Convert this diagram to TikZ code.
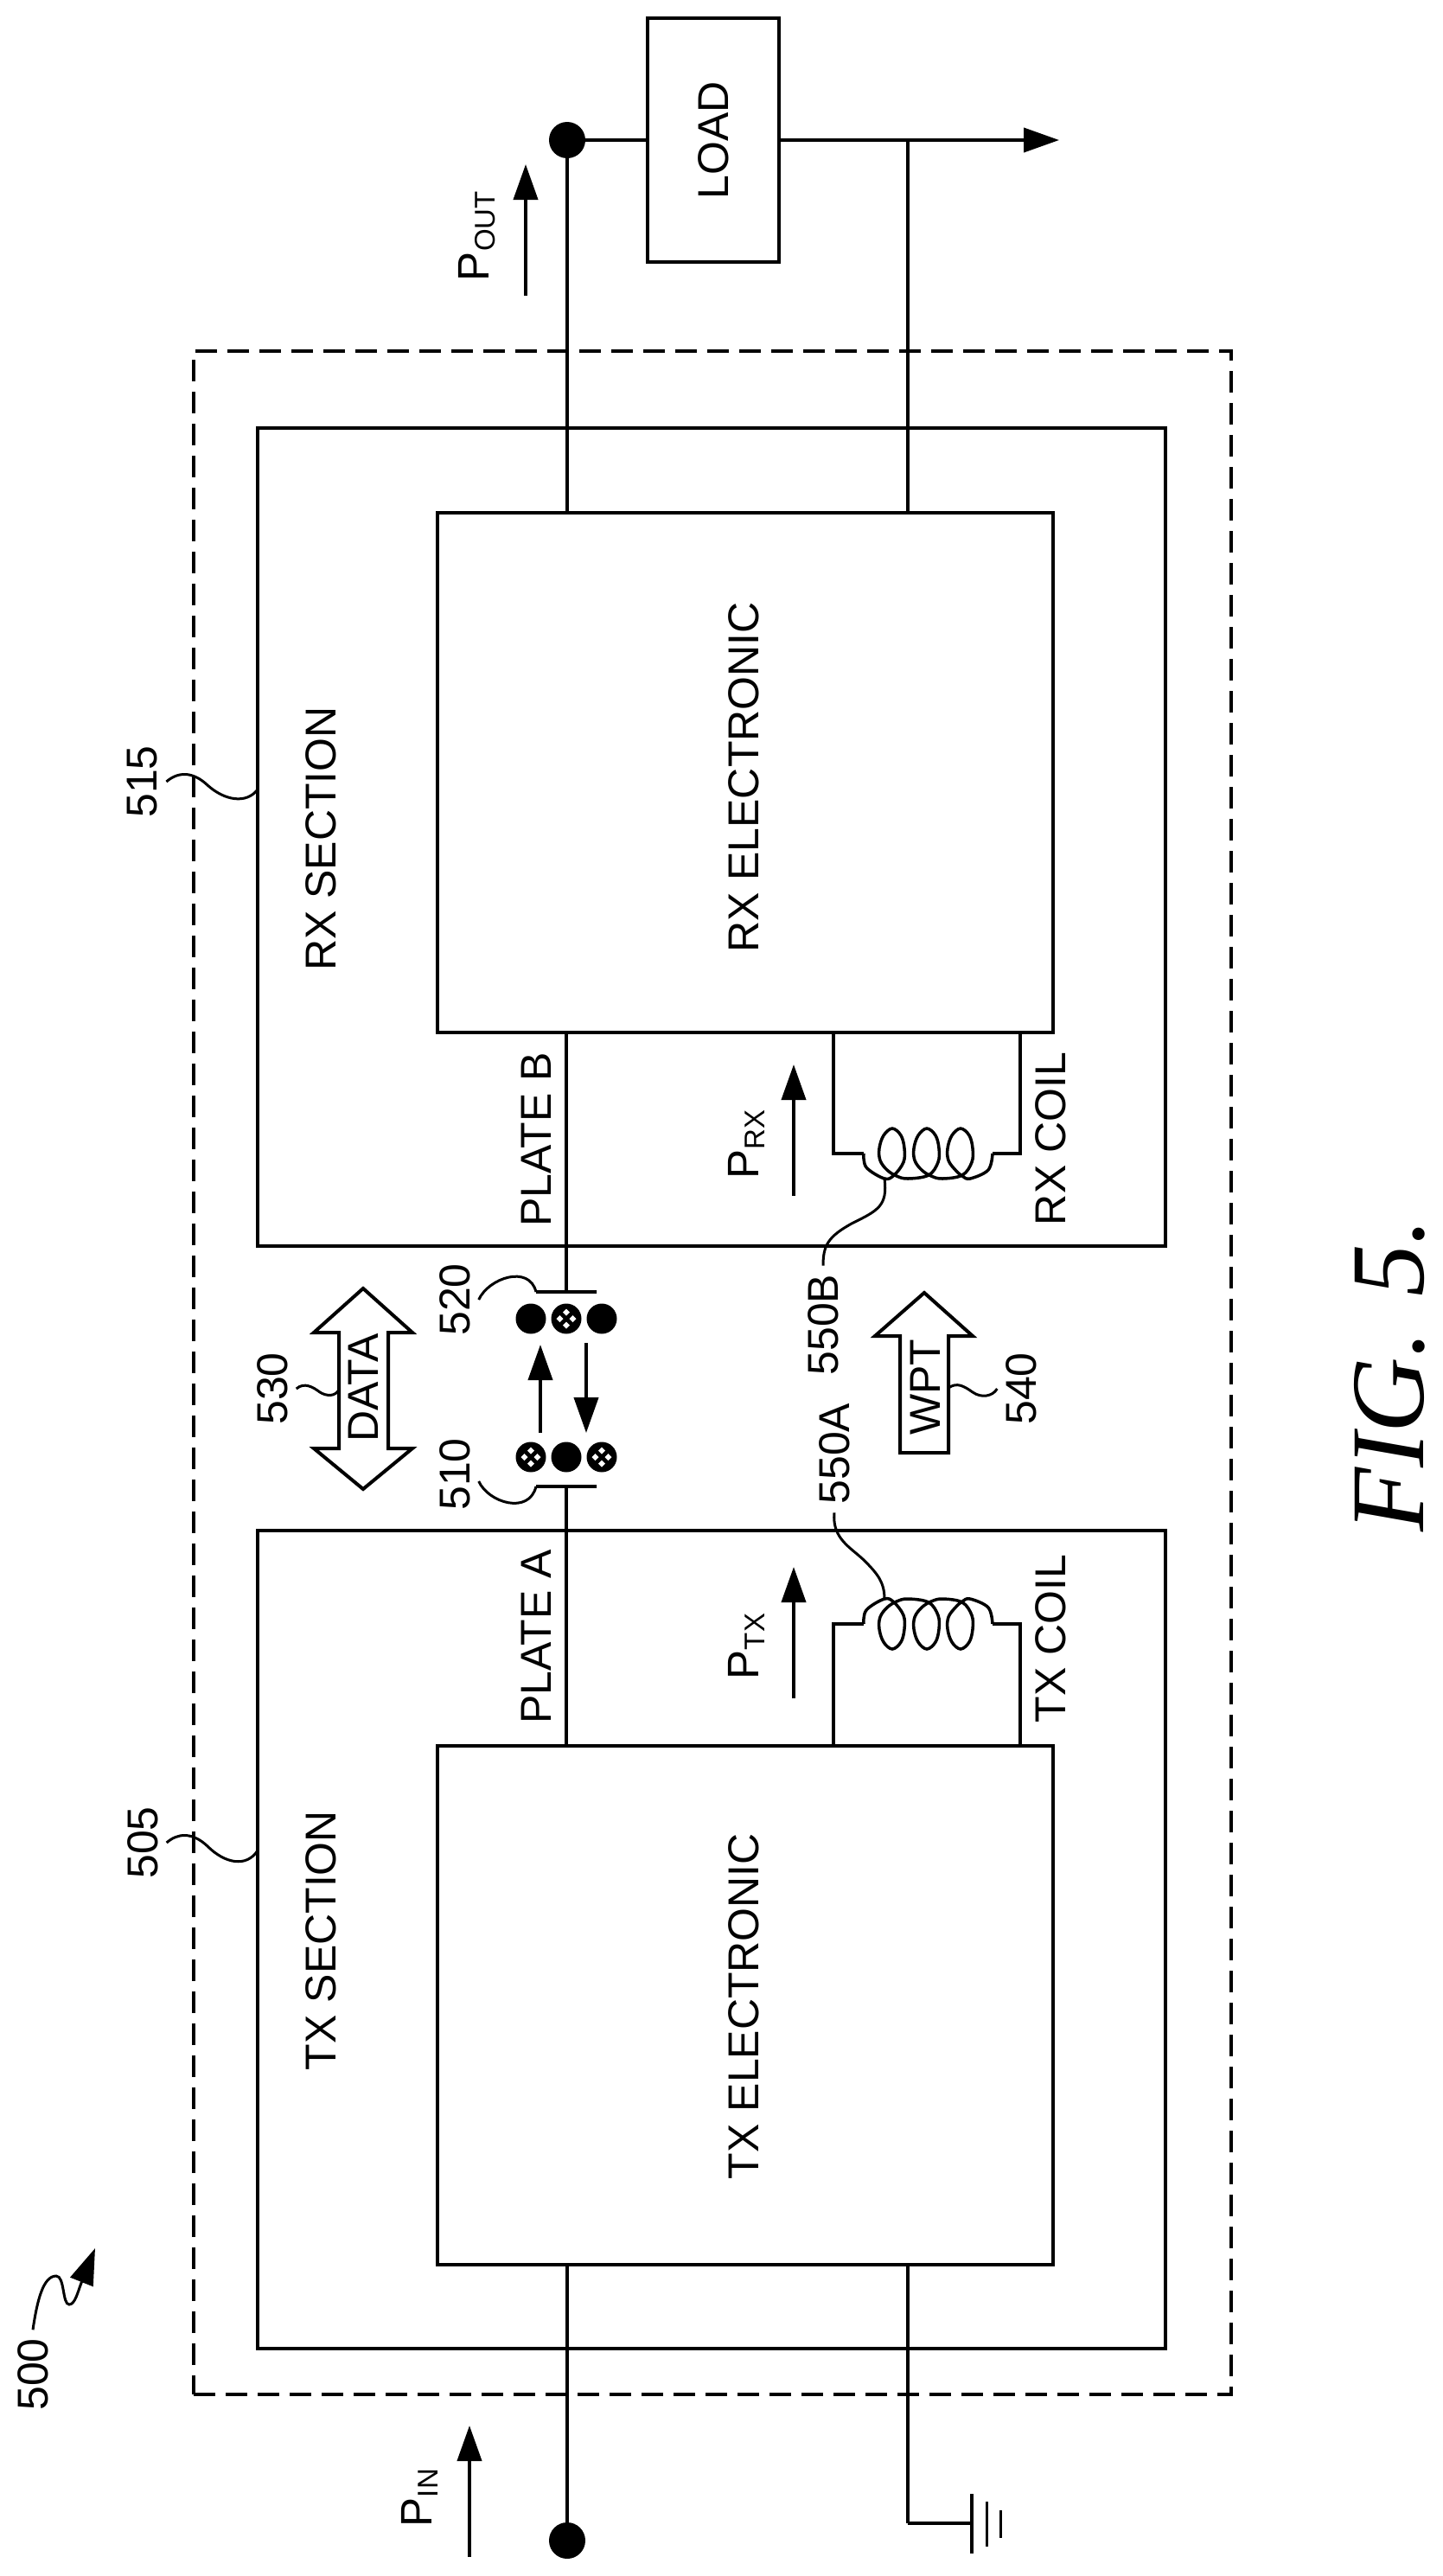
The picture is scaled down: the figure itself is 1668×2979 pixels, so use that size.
\documentclass[tikz,border=0pt]{standalone}
\usepackage{fontspec}
\setmainfont{Liberation Sans}
\newfontfamily\figfont{Liberation Serif}
\usetikzlibrary{positioning}
\usetikzlibrary{arrows.meta}
\tikzset{main node/.style={shape=rectangle,
    draw, align=center, outer sep=0pt, inner sep=0pt,
    font=\fontsize{50}{60}\selectfont}}
\tikzset{text node/.style={rotate=90, inner sep=10pt, outer sep=0pt,
    font=\fontsize{50}{60}\selectfont}}
\tikzset{power node/.style={rotate=90, anchor=base west, inner sep=0pt, outer sep=0pt,
    font=\fontsize{51}{60}\selectfont}}
\tikzset{dot node/.style={shape=circle, fill=black, inner sep=0pt, outer sep=0pt,
    minimum size=35pt}}
\tikzset{hatch dot/.style={dot node,
    path picture={\foreach \a in {0,90,180,270}
        \fill[white] (path picture bounding box.center) ++(\a:7.5pt) ++(4pt,0pt)
            -- ++(-4pt,4pt) -- ++(-4pt,-4pt) -- ++(4pt,-4pt) -- cycle;}}}
\tikzset{plate node/.style={main node, minimum width=70pt, minimum height=0pt}}
\tikzset{flow arrow/.style={-{Triangle[length=41pt,width=28pt]}}}
\tikzset{leader/.style={line width=3pt}}
\tikzset{coil/.pic={
    \coordinate (-a) at (0,0);
    \coordinate (-b) at (149,0);
    \coordinate (-c) at (24,29);
    \draw[line width=3.5pt] plot[smooth, tension=0.6] coordinates {
        (0,0) (3,16) (24,29)
        (35,25) (46,10) (47,-6) (43,-21) (33,-29) (23,-21) (18,-6) (19,8) (27,19) (38,26) (51,29)
        (75,25) (86,10) (87,-6) (83,-21) (73,-29) (63,-21) (58,-6) (59,8) (67,19) (78,26) (91,29)
        (114,25) (125,10) (126,-6) (122,-21) (112,-29) (102,-21) (97,-6) (98,8) (106,19) (114,26)
        (123,29) (144,19) (149,0)};
}}
\newcommand{\subtxt}[1]{{\fontsize{33}{33}\selectfont\raisebox{-7pt}{#1}}}

\begin{document}
\begin{tikzpicture}[x=1pt, y=-1pt, line width=4pt]
    \useasboundingbox (0,0) rectangle (1668,2979);

    % boxes
    \node[main node, dash pattern=on 25pt off 12pt, minimum width=1200pt, minimum height=2363pt] (sys) at (824,1587.5) {};
    \node[main node, minimum width=1050pt, minimum height=946pt] (rx) at (823,968) {};
    \node[main node, minimum width=1050pt, minimum height=946pt] (tx) [below = 329pt of rx] {};
    \node[main node, minimum width=712pt, minimum height=601pt] (rxel) at (862,893.5) {};
    \node[main node, minimum width=712pt, minimum height=600pt] (txel) at (862,2319) {};
    \node[main node, rotate=90, minimum width=282pt, minimum height=152pt] (load) at (825,162) {LOAD};

    \node[text node] (rxeltext) at (860,899) {RX ELECTRONIC};
    \node[text node] (txeltext) at (860,2320) {TX ELECTRONIC};
    \node[text node] (rxsec) at (371,970) {RX SECTION};
    \node[text node] (txsec) at (371,2244) {TX SECTION};
    \node[text node] (plb) at (620,1318) {PLATE B};
    \node[text node] (pla) at (620,1893) {PLATE A};
    \node[text node] (rxcoil) at (1215,1317) {RX COIL};
    \node[text node] (txcoil) at (1215,1895) {TX COIL};

    % terminals and plates
    \node[dot node, minimum size=42pt] (dotout) at (656,162) {};
    \node[dot node, minimum size=42pt] (dotin) at (656,2938) {};

    \node[hatch dot] (b2) at (655,1525) {};
    \node[dot node] (b1) [left = 6pt of b2] {};
    \node[dot node] (b3) [right = 6pt of b2] {};
    \node[dot node] (a2) at (655,1685) {};
    \node[hatch dot] (a1) [left = 6pt of a2] {};
    \node[hatch dot] (a3) [right = 6pt of a2] {};
    \node[plate node] (plateb) [above = 13.5pt of b2] {};
    \node[plate node] (platea) [below = 16.5pt of a2] {};

    % coils
    \coordinate (rxl) at (964,1334);
    \coordinate (rxr) at (1180,1334);
    \coordinate (txl) at (964,1878);
    \coordinate (txr) at (1180,1878);
    \pic (rxc) at (999,1334) {coil};
    \pic[yscale=-1] (txc) at (999,1878) {coil};

    % lines
    \coordinate (jout) at (1050,162);
    \coordinate (out) at (1225,162);
    \coordinate (gnd) at (1124,2918);
    \coordinate (jgnd) at (1050,2918);

    \path[draw]
    (dotout) edge (load)
    (dotout) edge (dotout |- rxel.north)
    (jout) edge (jout |- rxel.north)
    (rxel.south -| plateb) edge (plateb)
    (txel.north -| platea) edge (platea)
    (txel.south -| dotin) edge (dotin)
    (txel.south -| jgnd) edge (jgnd)
    (jgnd) edge (gnd)
    ;
    \draw[flow arrow] (load) -- (out);
    \draw (rxel.south -| rxl) -- (rxl) -- (rxc-a);
    \draw (rxel.south -| rxr) -- (rxr) -- (rxc-b);
    \draw (txel.north -| txl) -- (txl) -- (txc-a);
    \draw (txel.north -| txr) -- (txr) -- (txc-b);

    % ground
    \draw (gnd) ++(0,-34) -- ++(0,69);
    \draw[leader] (gnd) ++(17,-25) -- ++(0,52);
    \draw[leader] (gnd) ++(33,-15) -- ++(0,32);

    % power arrows
    \coordinate (p1) at (608,342);
    \coordinate (p2) at (608,190);
    \coordinate (p3) at (543,2957);
    \coordinate (p4) at (543,2805);
    \coordinate (p5) at (918,1383);
    \coordinate (p6) at (918,1231);
    \coordinate (p7) at (918,1964);
    \coordinate (p8) at (918,1812);
    \coordinate (p9) at (625,1657);
    \coordinate (p10) at (625,1555);
    \coordinate (p11) at (678,1553);
    \coordinate (p12) at (678,1657);
    \draw[flow arrow] (p1) -- (p2);
    \draw[flow arrow] (p3) -- (p4);
    \draw[flow arrow] (p5) -- (p6);
    \draw[flow arrow] (p7) -- (p8);
    \draw[flow arrow] (p9) -- (p10);
    \draw[flow arrow] (p11) -- (p12);

    \node[power node] (pout) at (565,325) {P\subtxt{OUT}};
    \node[power node] (pin) at (499,2922) {P\subtxt{IN}};
    \node[power node] (prx) at (877,1363) {P\subtxt{RX}};
    \node[power node] (ptx) at (877,1942) {P\subtxt{TX}};

    % wide arrows
    \draw (420,1490) -- (477,1541) -- (449,1541) -- (449,1675) -- (477,1675) -- (420,1722)
        -- (363,1675) -- (392,1675) -- (392,1541) -- (363,1541) -- cycle;
    \draw (1069,1495) -- (1125,1545) -- (1097,1545) -- (1097,1680) -- (1041,1680)
        -- (1041,1545) -- (1012,1545) -- cycle;
    \node[text node, inner sep=0pt] (data) at (420,1605) {DATA};
    \node[text node, inner sep=0pt] (wpt) at (1070,1604) {WPT};
    \coordinate (dataside) at (392,1607);
    \coordinate (wptside) at (1097,1605);

    % reference numbers
    \node[text node] (500) at (38,2746) {500};
    \node[text node] (505) at (165,2131) {505};
    \node[text node] (510) at (526,1705) {510};
    \node[text node] (515) at (165,904) {515};
    \node[text node] (520) at (526,1503) {520};
    \node[text node] (530) at (315,1606) {530};
    \node[text node] (540) at (1181,1606) {540};
    \node[text node] (550a) at (965,1681) {550A};
    \node[text node] (550b) at (952,1532) {550B};

    \coordinate (tip) at (110,2600);
    \draw[leader, -{Triangle[length=42pt,width=28pt]}] (500.east) .. controls (43,2660) and (50,2632) .. (65,2632)
        .. controls (75,2632) and (72,2665) .. (80,2665) .. controls (87,2665) and (90,2650) .. (tip);
    \draw[leader] (505.south) .. controls (205,2120) and (222,2118) .. (240,2135)
        .. controls (260,2155) and (285,2160) .. (tx.west |- 298,2140);
    \draw[leader] (515.south) .. controls (205,893) and (222,891) .. (240,908)
        .. controls (260,926) and (285,930) .. (rx.west |- 298,913);
    \draw[leader] (520.south) .. controls (565,1478) and (612,1462) .. (plateb.west);
    \draw[leader] ([yshift=-8pt]510.south) .. controls (565,1738) and (612,1752) .. (platea.west);
    \draw[leader] (530.south) .. controls (352,1598) and (362,1604) .. (370,1610)
        .. controls (378,1615) and (388,1615) .. (dataside);
    \draw[leader] (wptside) .. controls (1107,1598) and (1115,1603) .. (1125,1610)
        .. controls (1135,1617) and (1148,1615) .. (540.north);
    \draw[leader] (550a.west) .. controls (962,1780) and (985,1790) .. (1000,1805)
        .. controls (1015,1820) and (1023,1830) .. (txc-c);
    \draw[leader] (550b.east) .. controls (952,1440) and (958,1430) .. (985,1415)
        .. controls (1015,1400) and (1027,1395) .. (rxc-c);

    \node[rotate=90, inner sep=0pt] (fig) at (1607,1590) {\fontsize{121}{130}\selectfont\figfont\itshape FIG.\hspace{40pt}5.};
\end{tikzpicture}
\end{document}
